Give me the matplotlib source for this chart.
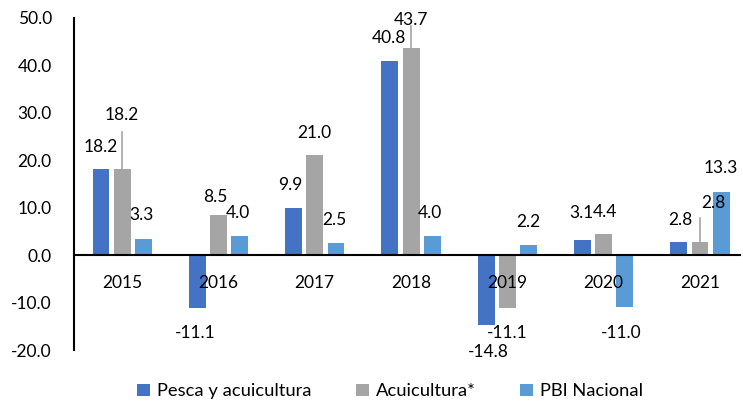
import numpy as np
import matplotlib.pyplot as plt

plt.rcParams['font.family'] = ['Lato', 'DejaVu Sans']

years = ['2015', '2016', '2017', '2018', '2019', '2020', '2021']
pesca = [18.2, -11.1, 9.9, 40.8, -14.8, 3.1, 2.8]
acui = [18.2, 8.5, 21.0, 43.7, -11.1, 4.4, 2.8]
pbi = [3.3, 4.0, 2.5, 4.0, 2.2, -11.0, 13.3]
names = ['Pesca y acuicultura', 'Acuicultura*', 'PBI Nacional']
colors = ['#4472C4', '#A5A5A5', '#5B9BD5']

# label positions (x offset in category units, y in data units), placed like the excel chart
lab_pesca = [(-0.22, 22.7), (-0.24, -16.4), (-0.25, 14.7), (-0.23, 45.7), (-0.2, -20.4), (-0.23, 8.8), (-0.2, 7.4)]
lab_acui = [(0.0, 29.5), (-0.03, 12.2), (0.0, 25.7), (0.0, 49.5), (0.0, -16.4), (0.01, 9.1), (0.14, 11.0)]
lab_pbi = [(0.2, 8.4), (0.2, 8.8), (0.2, 7.4), (0.2, 8.8), (0.22, 7.0), (0.18, -16.4), (0.22, 18.3)]
leaders = {0: 26.0, 3: 48.2, 6: 7.8}

fig = plt.figure(figsize=(7.43, 4.11), dpi=100)
ax = fig.add_axes([0.0996, 0.148, 0.897, 0.809])

x = np.arange(len(years))
step = 0.22
w = 0.175
for i, (vals, c, n) in enumerate(zip([pesca, acui, pbi], colors, names)):
    ax.bar(x + (i - 1) * step, vals, w, color=c, label=n, zorder=2)

fs = 12.5
for series, labs in [(pesca, lab_pesca), (acui, lab_acui), (pbi, lab_pbi)]:
    for k, v in enumerate(series):
        dx, yy = labs[k]
        ax.text(x[k] + dx, yy, '%.1f' % v, ha='center', va='center', fontsize=fs)

# leader lines for the grey labels
for k, top in leaders.items():
    ax.plot([x[k], x[k]], [acui[k], top], color='#A5A5A5', lw=1.2, zorder=1)

ax.spines['bottom'].set_position(('data', 0))
ax.set_axisbelow(False)
ax.set_ylim(-20, 50)
ax.set_xlim(-0.5, 6.42)
ax.set_yticks(np.arange(-20, 51, 10))
ax.set_yticklabels(['%.1f' % t for t in np.arange(-20, 51, 10)])
ax.set_xticks(x)
ax.set_xticklabels(years)
ax.spines['bottom'].set_linewidth(1.5)
ax.spines['left'].set_linewidth(1.5)
ax.spines['top'].set_visible(False)
ax.spines['right'].set_visible(False)
ax.tick_params(axis='x', length=0, pad=14, labelsize=fs)
ax.tick_params(axis='y', length=0, pad=16, labelsize=fs)

fig.legend(loc='lower center', bbox_to_anchor=(0.525, -0.012), ncol=3, frameon=False,
           fontsize=13.2, handlelength=0.7, handleheight=0.7, handletextpad=0.4,
           columnspacing=2.4)

fig.savefig('out.png', dpi=100)
